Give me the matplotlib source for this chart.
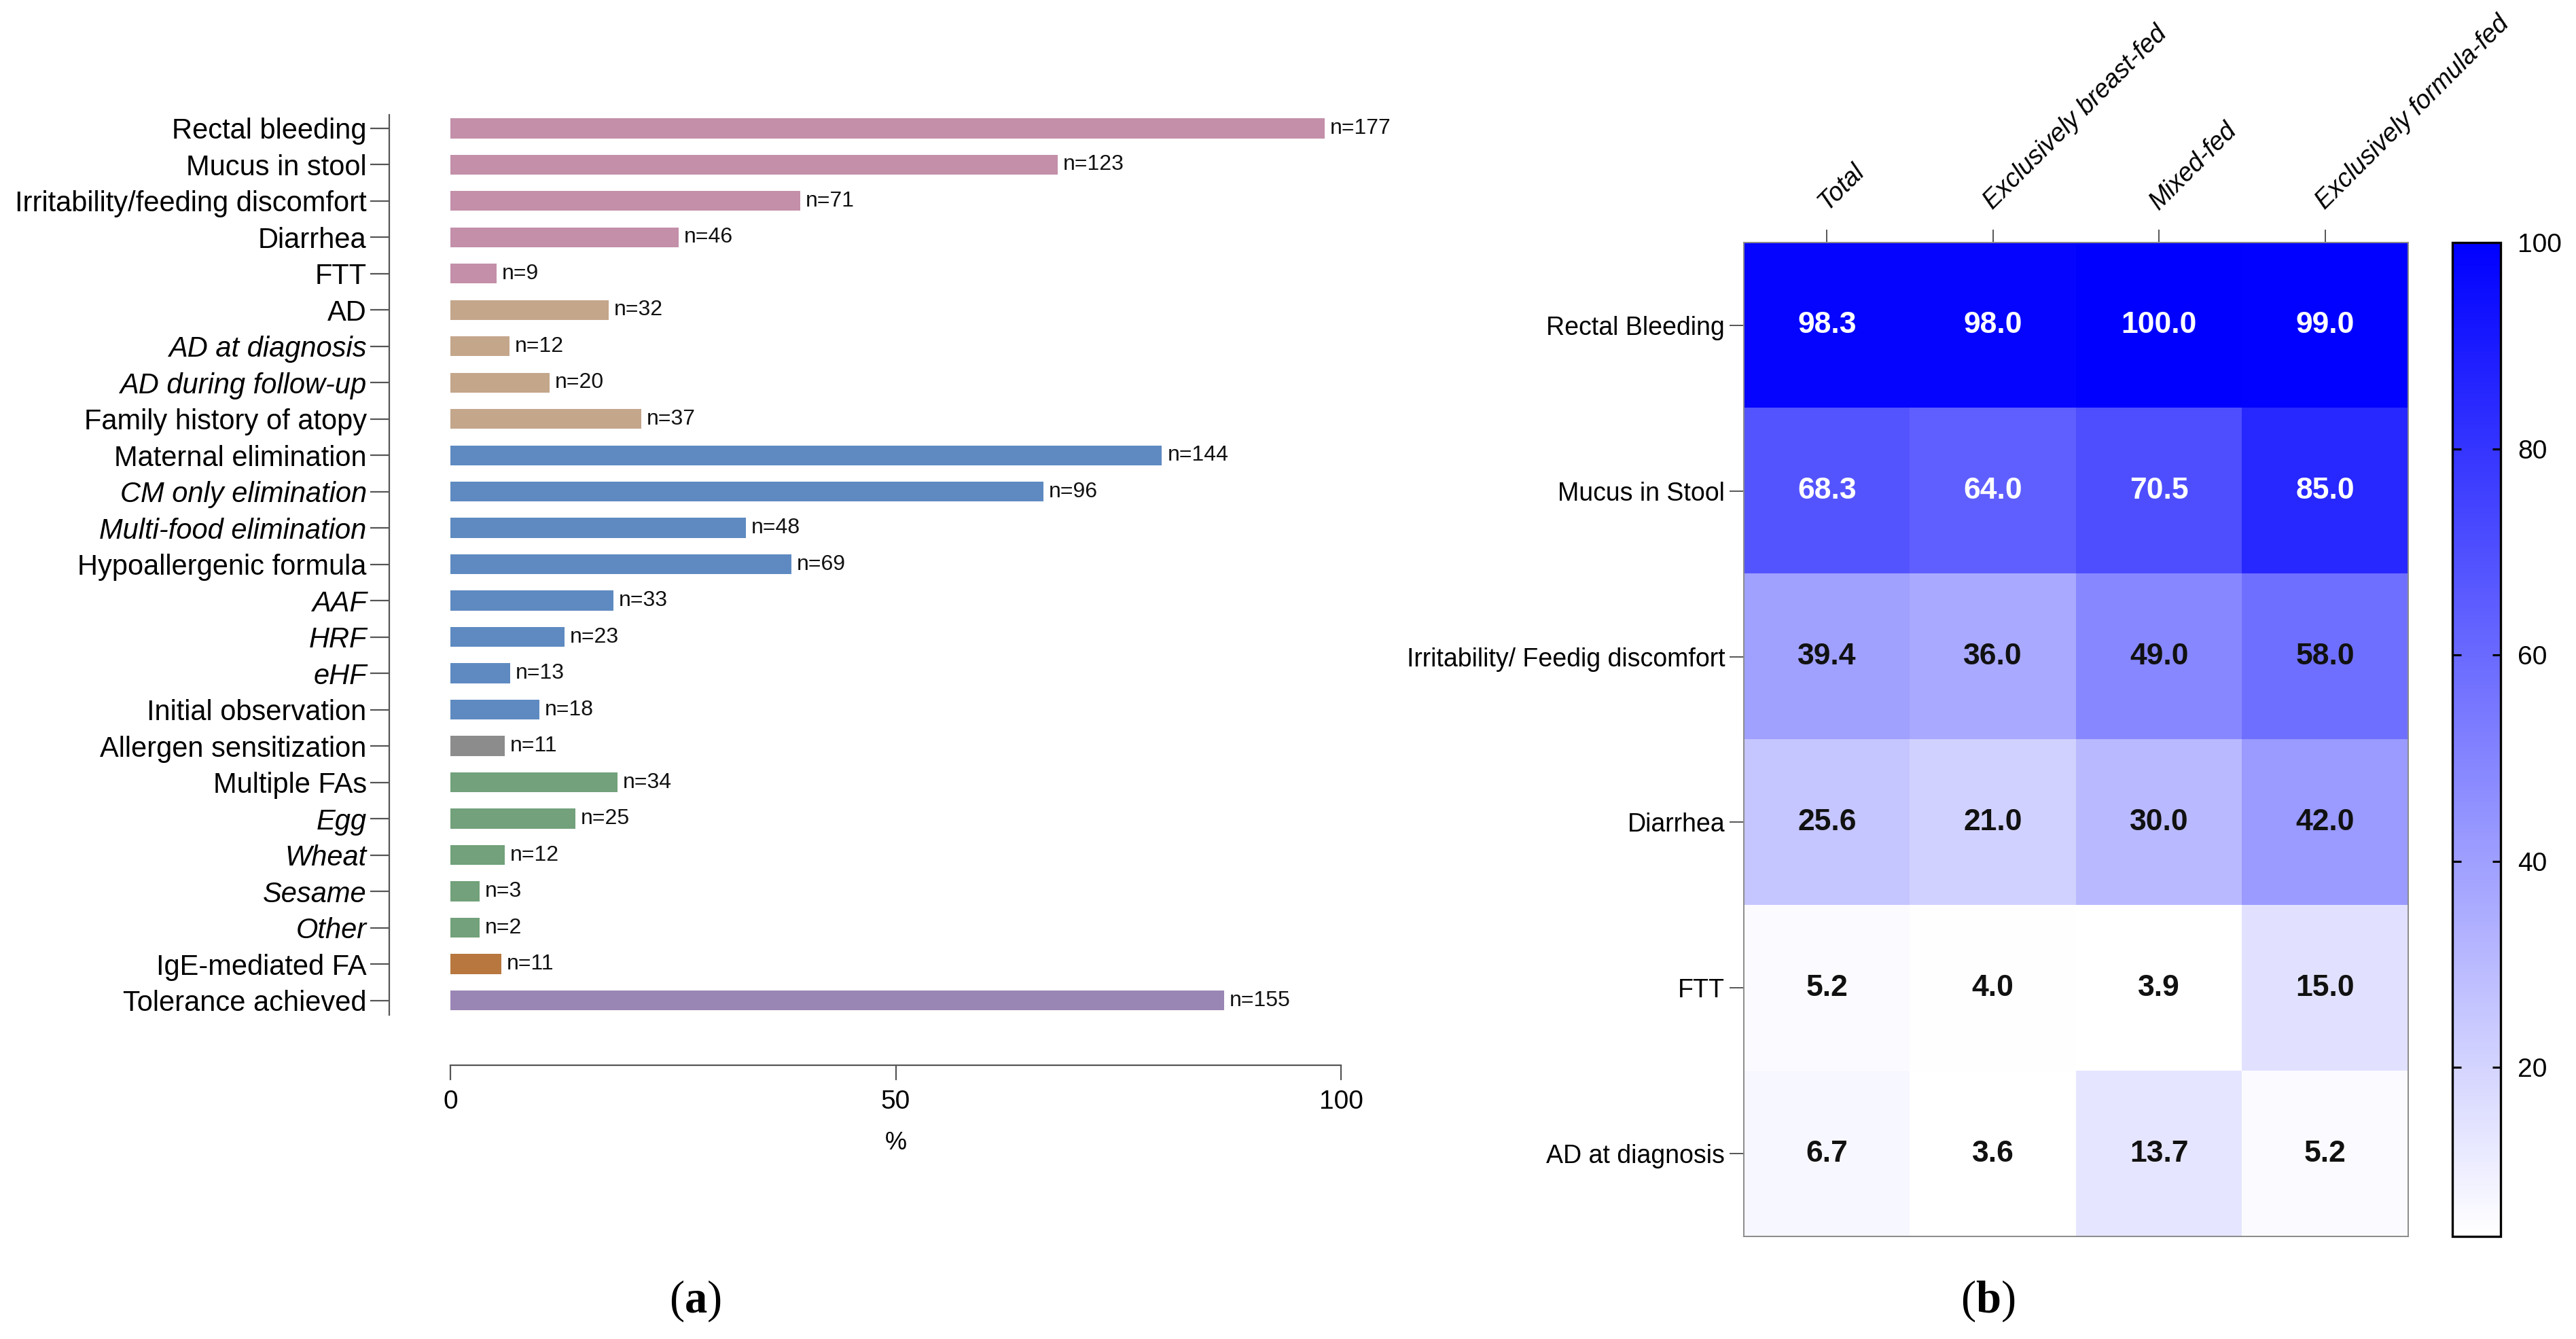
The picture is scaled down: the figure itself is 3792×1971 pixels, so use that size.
import matplotlib
matplotlib.use("Agg")
import matplotlib.pyplot as plt
from matplotlib.colors import LinearSegmentedColormap
import numpy as np

plt.rcParams['font.family'] = ['Liberation Sans', 'DejaVu Sans']
plt.rcParams['mathtext.fontset'] = 'custom'
plt.rcParams['mathtext.rm'] = 'Liberation Serif'
plt.rcParams['mathtext.bf'] = 'Liberation Serif:bold'

# ---------------- data: panel (a) ----------------
categories = ["Rectal bleeding", "Mucus in stool", "Irritability/feeding discomfort",
              "Diarrhea", "FTT", "AD", "AD at diagnosis", "AD during follow-up",
              "Family history of atopy", "Maternal elimination", "CM only elimination",
              "Multi-food elimination", "Hypoallergenic formula", "AAF", "HRF", "eHF",
              "Initial observation", "Allergen sensitization", "Multiple FAs", "Egg",
              "Wheat", "Sesame", "Other", "IgE-mediated FA", "Tolerance achieved"]
percent = [98.2, 68.2, 39.3, 25.6, 5.2, 17.8, 6.6, 11.1, 21.4, 79.9, 66.6, 33.2,
           38.3, 18.3, 12.8, 6.7, 10.0, 6.1, 18.8, 14.0, 6.1, 3.3, 3.3, 5.7, 86.9]
n_counts = [177, 123, 71, 46, 9, 32, 12, 20, 37, 144, 96, 48, 69, 33, 23, 13, 18,
            11, 34, 25, 12, 3, 2, 11, 155]
groups = ["sym"] * 5 + ["ad"] * 4 + ["mgmt"] * 8 + ["sens"] + ["fa"] * 5 + ["ige"] + ["tol"]
italic_labels = {"AD at diagnosis", "AD during follow-up", "CM only elimination",
                 "Multi-food elimination", "AAF", "HRF", "eHF", "Egg", "Wheat",
                 "Sesame", "Other"}
group_colors = {"sym": "#C38FA9", "ad": "#C4A68B", "mgmt": "#5E8AC1", "sens": "#8C8C8C",
                "fa": "#72A17B", "ige": "#B7773F", "tol": "#9A86B4"}

# ---------------- data: panel (b) ----------------
hm_rows = ["Rectal Bleeding", "Mucus in Stool", "Irritability/ Feedig discomfort",
           "Diarrhea", "FTT", "AD at diagnosis"]
hm_cols = ["Total", "Exclusively breast-fed", "Mixed-fed", "Exclusively formula-fed"]
hm_total = [98.3, 68.3, 39.4, 25.6, 5.2, 6.7]
hm_breast = [98.0, 64.0, 36.0, 21.0, 4.0, 3.6]
hm_mixed = [100.0, 70.5, 49.0, 30.0, 3.9, 13.7]
hm_formula = [99.0, 85.0, 58.0, 42.0, 15.0, 5.2]
cbar_ticks = [20, 40, 60, 80, 100]

W, H, DPI = 3792, 1971, 100
fig = plt.figure(figsize=(W / DPI, H / DPI), dpi=DPI)

def fx(px):
    return px / W

def fy(px_top):
    return 1 - px_top / H

axis_col = "#555555"

# ---------------- panel (a) ----------------
ax = fig.add_axes([fx(663), fy(1494), fx(1974 - 663), (1494 - 169) / H])
ypos = np.arange(len(categories))
colors = [group_colors[g] for g in groups]
bars = ax.barh(ypos, percent, height=0.55, color=colors, edgecolor='none')
ax.set_xlim(0, 100)
ax.set_ylim(24.4, -0.37)
for b, n in zip(bars, n_counts):
    ax.text(b.get_width() + 0.6, b.get_y() + b.get_height() / 2, f"n={n}",
            va='center', ha='left', fontsize=23, color='#111111')

ax.spines['top'].set_visible(False)
ax.spines['right'].set_visible(False)
ax.spines['left'].set_position(('outward', 64.8))
ax.spines['bottom'].set_position(('outward', 53.3))
ax.spines['bottom'].set_bounds(0, 100)
for s in ('left', 'bottom'):
    ax.spines[s].set_color(axis_col)
    ax.spines[s].set_linewidth(1.6)
ax.tick_params(axis='y', length=20, width=1.6, color=axis_col, pad=4, labelsize=30)
ax.tick_params(axis='x', length=16, width=1.6, color=axis_col, pad=10, labelsize=28)
ax.set_xticks([0, 50, 100])
ax.set_yticks(ypos)
ax.set_yticklabels(categories, fontsize=30)
for lab in ax.get_yticklabels():
    if lab.get_text() in italic_labels:
        lab.set_fontstyle('italic')
ax.set_xlabel("%", fontsize=26, labelpad=18)

fig.text(fx(1023), fy(1915), r"($\mathbf{a}$)", family='Liberation Serif',
         fontsize=48, ha='center', va='center')

# ---------------- panel (b) ----------------
data = np.array([hm_total, hm_breast, hm_mixed, hm_formula]).T
cmap = LinearSegmentedColormap.from_list("wb", ["#FFFFFF", "#0000FF"])
hx = fig.add_axes([fx(2567), fy(1820), fx(3545 - 2567), (1820 - 357) / H])
im = hx.imshow(data, cmap=cmap, vmin=3.6, vmax=100, aspect='auto')
for i in range(data.shape[0]):
    for j in range(data.shape[1]):
        hx.text(j, i, f"{data[i, j]:.1f}", ha='center', va='center', fontsize=32,
                fontweight='bold', color='white' if i < 2 else '#111111')
hx.tick_params(axis='y', length=15, width=1.4, color=axis_col, pad=5, labelsize=27)
hx.tick_params(axis='x', length=14, width=1.4, color=axis_col, pad=20, labelsize=27)
hx.set_yticks(range(len(hm_rows)))
hx.set_yticklabels(hm_rows, fontsize=27)
hx.set_xticks(range(len(hm_cols)))
hx.xaxis.tick_top()
hx.set_xticklabels(hm_cols, fontsize=27, fontstyle='italic', rotation=45,
                   ha='left', va='baseline', rotation_mode='anchor')
for s in hx.spines.values():
    s.set_color('#8A8A8A')
    s.set_linewidth(1.4)

cax = fig.add_axes([fx(3610), fy(1820), fx(3681 - 3610), (1820 - 357) / H])
cb = fig.colorbar(im, cax=cax, ticks=cbar_ticks)
cb.outline.set_linewidth(2.4)
cb.outline.set_edgecolor('black')
cax.tick_params(direction='in', left=True, right=True, length=9, width=2.2,
                color='black', labelsize=28, pad=18)

fig.text(fx(2926), fy(1915), r"($\mathbf{b}$)", family='Liberation Serif',
         fontsize=48, ha='center', va='center')

fig.savefig("out.png", dpi=DPI)
